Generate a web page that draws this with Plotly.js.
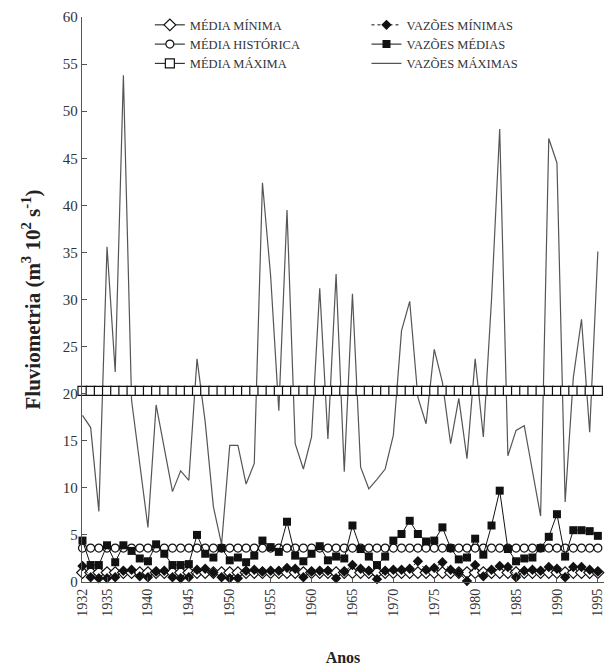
<!DOCTYPE html>
<html>
<head>
<meta charset="utf-8">
<script src="https://cdn.plot.ly/plotly-3.0.1.min.js"></script>
<style>html,body{margin:0;padding:0;background:#fff;}#chart{width:607px;height:668px;}</style>
</head>
<body>
<div id="chart"></div>
<script>
const years = [];
for (let y = 1932; y <= 1995; y++) years.push(y);

const mediaMinimaValue = 1.0;
const mediaHistoricaValue = 3.6;
const mediaMaximaValue = 20.3;

const vazoesMinimas = [
  1.7, 0.5, 0.4, 0.4, 0.5, 1.2, 1.3, 0.6, 0.5, 1.1,
  1.2, 0.5, 0.4, 0.5, 1.3, 1.4, 1.0, 0.5, 0.4, 0.4,
  1.2, 1.3, 1.1, 1.2, 1.2, 1.5, 1.4, 0.5, 1.1, 1.2,
  1.2, 0.4, 1.1, 1.8, 1.4, 1.2, 0.3, 1.2, 1.3, 1.3,
  1.4, 2.2, 1.3, 1.5, 2.1, 1.3, 1.0, 0.1, 1.8, 0.6,
  1.3, 1.7, 1.6, 0.5, 1.2, 1.3, 1.2, 1.6, 1.4, 0.5,
  1.6, 1.6, 1.3, 1.1
];

const vazoesMedias = [
  4.4, 1.8, 1.8, 3.9, 2.1, 3.9, 3.3, 2.5, 2.2, 4.0,
  3.0, 1.8, 1.8, 1.9, 5.0, 3.0, 2.6, 3.6, 2.3, 2.6,
  2.1, 2.8, 4.4, 3.7, 3.2, 6.4, 2.8, 2.2, 3.0, 3.8,
  2.3, 2.7, 2.5, 6.0, 3.5, 2.7, 1.8, 2.7, 4.4, 5.1,
  6.5, 5.1, 4.3, 4.4, 5.8, 3.6, 2.4, 2.6, 4.6, 2.9,
  6.0, 9.7, 3.5, 2.2, 2.5, 2.6, 3.6, 4.8, 7.2, 2.7,
  5.5, 5.5, 5.4, 4.9
];

const vazoesMaximas = [
  17.7, 16.4, 7.5, 35.6, 22.3, 53.8, 19.3, 12.5, 5.8, 18.8,
  14.2, 9.6, 11.8, 10.8, 23.7, 17.0, 8.0, 4.0, 14.5, 14.5,
  10.4, 12.6, 42.4, 32.5, 18.2, 39.5, 14.7, 12.0, 15.4, 31.2,
  15.2, 32.7, 11.7, 30.6, 12.2, 9.9, 10.9, 12.0, 15.6, 26.7,
  29.8, 19.6, 16.8, 24.7, 21.2, 14.7, 19.5, 13.1, 23.7, 15.4,
  30.0, 48.1, 13.4, 16.1, 16.6, 12.0, 7.0, 47.1, 44.5, 8.5,
  21.7, 27.9, 15.9, 35.1
];

const xTickVals = [1932, 1935, 1940, 1945, 1950, 1955, 1960, 1965, 1970, 1975, 1980, 1985, 1990, 1995];
const yTickVals = [0, 5, 10, 15, 20, 25, 30, 35, 40, 45, 50, 55, 60];

const names = {
  mmin: 'MÉDIA MÍNIMA', mhis: 'MÉDIA HISTÓRICA', mmax: 'MÉDIA MÁXIMA',
  vmin: 'VAZÕES MÍNIMAS', vmed: 'VAZÕES MÉDIAS', vmax: 'VAZÕES MÁXIMAS'
};

const serif = 'Liberation Serif, Times New Roman, serif';

const traces = [
  {
    x: years, y: vazoesMaximas, name: names.vmax, mode: 'lines', legend: 'legend2',
    line: {color: '#555', width: 1.2}, legendrank: 3, cliponaxis: false
  },
  {
    x: years, y: years.map(() => mediaMaximaValue), name: names.mmax, mode: 'lines+markers',
    line: {color: '#111', width: 1}, marker: {symbol: 'square', size: 9, color: '#fff', line: {color: '#111', width: 1.2}},
    legend: 'legend', legendrank: 3, cliponaxis: false
  },
  {
    x: years, y: years.map(() => mediaHistoricaValue), name: names.mhis, mode: 'lines+markers',
    line: {color: '#111', width: 1}, marker: {symbol: 'circle', size: 8, color: '#fff', line: {color: '#111', width: 1.2}},
    legend: 'legend', legendrank: 2, cliponaxis: false
  },
  {
    x: years, y: years.map(() => mediaMinimaValue), name: names.mmin, mode: 'lines+markers',
    line: {color: '#111', width: 1}, marker: {symbol: 'diamond', size: 9, color: '#fff', line: {color: '#111', width: 1.2}},
    legend: 'legend', legendrank: 1, cliponaxis: false
  },
  {
    x: years, y: vazoesMinimas, name: names.vmin, mode: 'lines+markers',
    line: {color: '#111', width: 1, dash: 'dot'}, marker: {symbol: 'diamond', size: 8, color: '#111'},
    legend: 'legend2', legendrank: 1, cliponaxis: false
  },
  {
    x: years, y: vazoesMedias, name: names.vmed, mode: 'lines+markers',
    line: {color: '#111', width: 1}, marker: {symbol: 'square', size: 8, color: '#111'},
    legend: 'legend2', legendrank: 2, cliponaxis: false
  }
];

const legendFont = {family: serif, size: 12.5, color: '#333'};

const layout = {
  width: 607, height: 668,
  margin: {l: 82, r: 3, t: 17, b: 86},
  paper_bgcolor: '#fff', plot_bgcolor: '#fff',
  font: {family: serif, color: '#333'},
  showlegend: true,
  xaxis: {
    range: [1931.94, 1995.75],
    tickmode: 'array', tickvals: xTickVals, ticktext: xTickVals.map(String),
    tickangle: -90, ticks: 'inside', ticklen: 5, tickcolor: '#555',
    showline: true, linecolor: '#555', linewidth: 1.2,
    showgrid: false, zeroline: false,
    tickfont: {family: serif, size: 14, color: '#333'},
    title: {text: '<b>Anos</b>', font: {family: serif, size: 16, color: '#222'}, standoff: 36}
  },
  yaxis: {
    range: [0, 60],
    tickmode: 'array', tickvals: yTickVals,
    ticks: 'inside', ticklen: 5, tickcolor: '#555',
    showline: true, linecolor: '#555', linewidth: 1.2,
    showgrid: false, zeroline: false,
    tickfont: {family: serif, size: 15, color: '#333'},
    title: {text: '<b>Fluviometria (m<sup>3</sup> 10<sup>2</sup> s<sup>-1</sup>)</b>', font: {family: serif, size: 21, color: '#222'}, standoff: 16}
  },
  legend: {
    x: 0.13, y: 1.012, xanchor: 'left', yanchor: 'top',
    bgcolor: 'rgba(0,0,0,0)', font: legendFont, traceorder: 'normal', itemwidth: 30
  },
  legend2: {
    x: 0.545, y: 1.012, xanchor: 'left', yanchor: 'top',
    bgcolor: 'rgba(0,0,0,0)', font: legendFont, traceorder: 'normal', itemwidth: 30
  }
};

Plotly.newPlot('chart', traces, layout, {displayModeBar: false, staticPlot: true});
</script>
</body>
</html>
